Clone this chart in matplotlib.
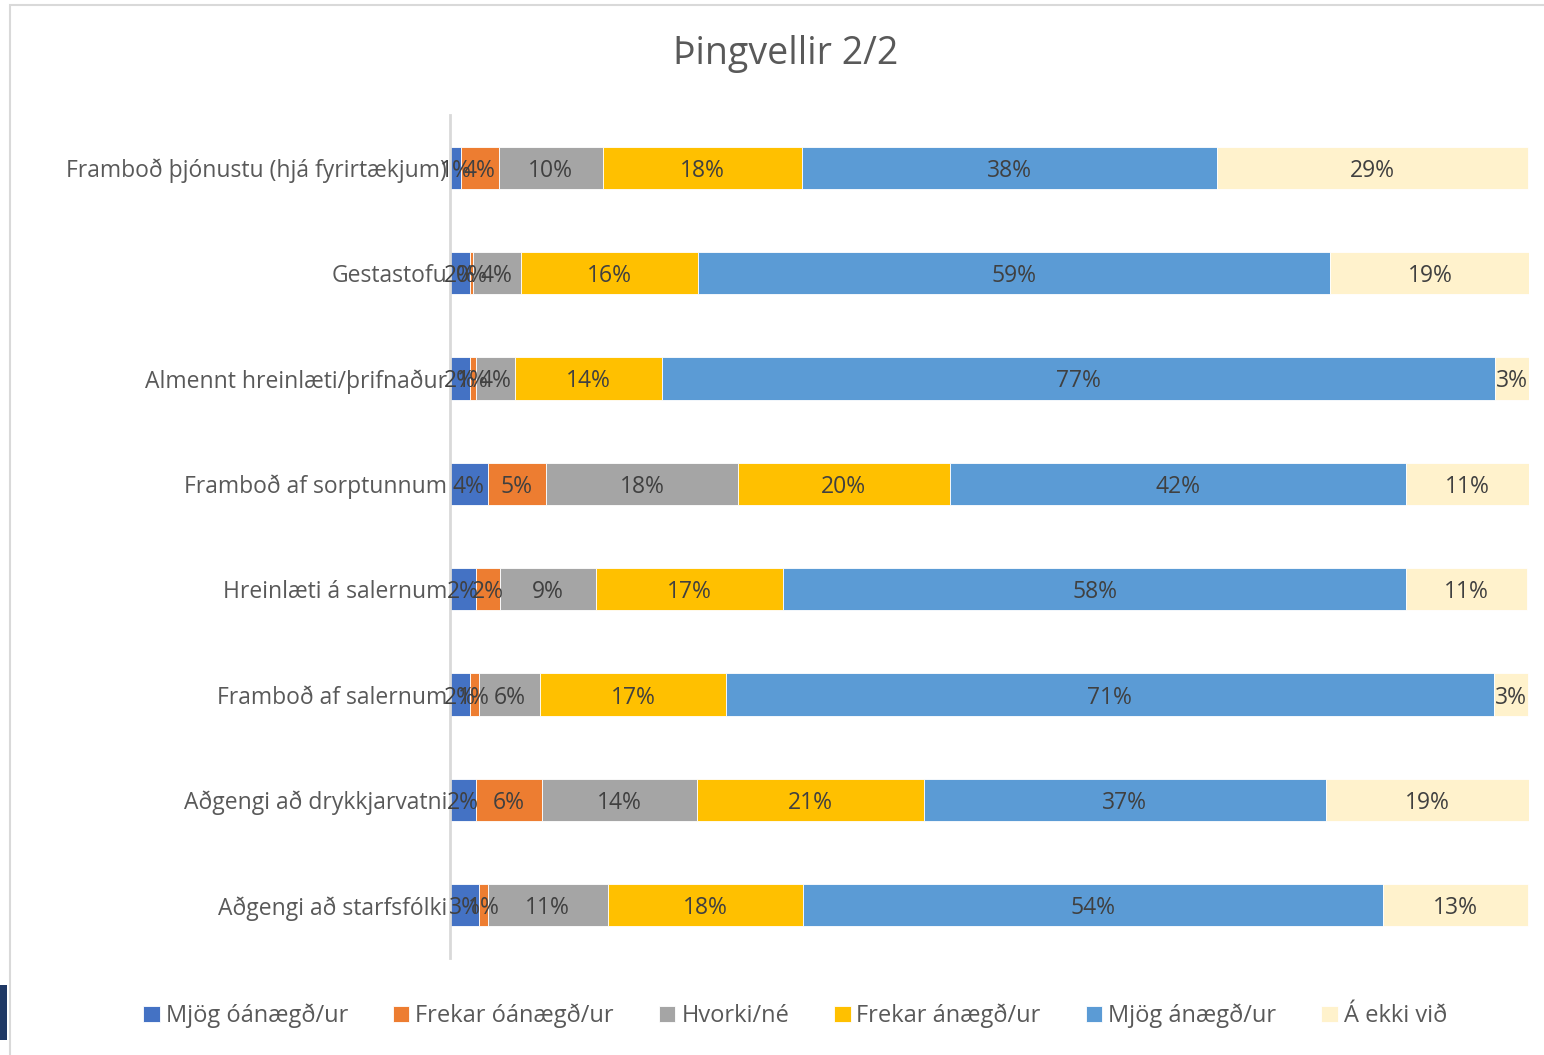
import matplotlib
matplotlib.use("Agg")
import matplotlib.pyplot as plt
from matplotlib.patches import Rectangle
import numpy as np

categories = [
    "Framboð þjónustu (hjá fyrirtækjum)",
    "Gestastofu",
    "Almennt hreinlæti/þrifnaður",
    "Framboð af sorptunnum",
    "Hreinlæti á salernum",
    "Framboð af salernum",
    "Aðgengi að drykkjarvatni",
    "Aðgengi að starfsfólki",
]
series_names = ["Mjög óánægð/ur", "Frekar óánægð/ur", "Hvorki/né",
                "Frekar ánægð/ur", "Mjög ánægð/ur", "Á ekki við"]
mjog_oanaegd = [1.0, 1.85, 1.85, 3.5, 2.4, 1.85, 2.4, 2.7]
frekar_oanaegd = [3.5, 0.3, 0.6, 5.4, 2.2, 0.8, 6.1, 0.8]
hvorki = [9.7, 4.4, 3.6, 17.8, 8.9, 5.7, 14.4, 11.1]
frekar_anaegd = [18.4, 16.4, 13.6, 19.6, 17.4, 17.2, 21.0, 18.1]
mjog_anaegd = [38.5, 58.6, 77.2, 42.3, 57.7, 71.2, 37.3, 53.8]
a_ekki_vid = [28.8, 18.6, 3.2, 11.4, 11.2, 3.2, 18.8, 13.4]
colors = ["#4472C4", "#ED7D31", "#A5A5A5", "#FFC000", "#5B9BD5", "#FFF2CC"]

data = [mjog_oanaegd, frekar_oanaegd, hvorki, frekar_anaegd, mjog_anaegd, a_ekki_vid]

plt.rcParams['font.family'] = ['Open Sans', 'DejaVu Sans']
fig = plt.figure(figsize=(15.44, 10.55), dpi=100)
W, H = 1544, 1055

# chart frame
fig.patches.append(Rectangle((10 / W, -0.01), 1.05, 1 - 5 / H + 0.01, transform=fig.transFigure,
                             facecolor="white", edgecolor="#D9D9D9", linewidth=1.5, zorder=-5))
fig.patches.append(Rectangle((0, 1 - 1040 / H), 7 / W, 55 / H, transform=fig.transFigure,
                             facecolor="#1F3864", edgecolor="none", zorder=-4))

ax = fig.add_axes([450 / W, 1 - 958 / H, (1529 - 450) / W, (958 - 115) / H])
ax.set_zorder(2)
y = np.arange(len(categories))
left = np.zeros(len(categories))
for name, vals, c in zip(series_names, data, colors):
    vals = np.array(vals)
    ax.barh(y, vals, left=left, height=0.4, color=c, label=name,
            edgecolor="white", linewidth=0.6)
    for yi, l, v in zip(y, left, vals):
        ax.text(l + v / 2, yi, f"{v:.0f}%", ha="center", va="center_baseline",
                fontsize=16.5, color="#404040")
    left += vals

ax.set_xlim(0, 100)
ax.set_ylim(len(categories) - 0.5, -0.5)
ax.set_yticks(y)
ax.set_yticklabels(categories, fontsize=16.5, color="#595959")
ax.tick_params(axis="y", length=0, pad=2)
ax.set_xticks([])
for s in ["top", "right", "bottom"]:
    ax.spines[s].set_visible(False)
ax.spines["left"].set_color("#D9D9D9")
ax.spines["left"].set_linewidth(2)
ax.patch.set_alpha(0)

fig.text(786 / W, 1 - 54 / H, "Þingvellir 2/2", ha="center", va="center",
         fontsize=27, color="#595959")

fig.legend(loc="center", bbox_to_anchor=(795 / W, 1 - 1016 / H), ncol=6,
           frameon=False, fontsize=17, handlelength=0.7, handleheight=0.7,
           handletextpad=0.25, columnspacing=1.9, labelcolor="#595959")

fig.savefig("out.png", dpi=100)
